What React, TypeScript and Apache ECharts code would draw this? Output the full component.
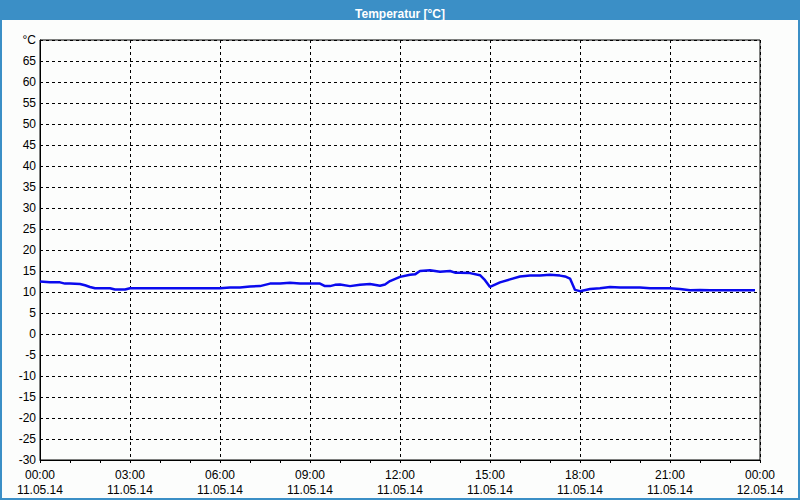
import React, { useEffect, useRef } from "react";
import * as echarts from "echarts";

const chartTitle = "Temperatur [°C]";
const xTickTimes = ["00:00", "03:00", "06:00", "09:00", "12:00", "15:00", "18:00", "21:00", "00:00"];
const xTickDates = ["11.05.14", "11.05.14", "11.05.14", "11.05.14", "11.05.14", "11.05.14", "11.05.14", "11.05.14", "12.05.14"];
const yUnitLabel = "°C";

const times = [
  "00:00", "00:20", "00:40", "00:50", "01:00", "01:20", "01:30", "01:40", "01:50", "02:00",
  "02:20", "02:30", "02:50", "03:00", "04:00", "05:00", "06:00", "06:20", "06:40", "07:00",
  "07:20", "07:30", "07:40", "07:50", "08:00", "08:20", "08:40", "09:00", "09:20", "09:30",
  "09:40", "09:50", "10:00", "10:20", "10:40", "11:00", "11:20", "11:30", "11:40", "12:00",
  "12:20", "12:30", "12:40", "13:00", "13:20", "13:40", "13:50", "14:00", "14:20", "14:40",
  "14:50", "15:00", "15:20", "15:40", "16:00", "16:20", "16:40", "17:00", "17:20", "17:30",
  "17:40", "17:50", "18:00", "18:20", "18:40", "19:00", "19:20", "20:00", "20:20", "21:00",
  "21:20", "21:40", "22:00", "22:20", "23:00", "23:50"
];
const temps = [
  12.5, 12.3, 12.3, 12.0, 12.0, 11.9, 11.6, 11.2, 10.9, 10.9,
  10.9, 10.6, 10.6, 10.9, 10.9, 10.9, 10.9, 11.1, 11.1, 11.3,
  11.4, 11.7, 12.0, 12.0, 12.0, 12.2, 12.0, 12.0, 12.0, 11.4,
  11.4, 11.7, 11.8, 11.4, 11.7, 11.9, 11.5, 11.8, 12.6, 13.6,
  14.1, 14.2, 15.0, 15.2, 14.8, 15.0, 14.6, 14.6, 14.5, 14.0,
  12.8, 11.2, 12.3, 13.0, 13.7, 13.9, 13.9, 14.1, 13.9, 13.7,
  13.2, 10.5, 10.2, 10.7, 10.9, 11.2, 11.1, 11.1, 10.9, 10.9,
  10.7, 10.4, 10.5, 10.4, 10.4, 10.4
];

const toHours = (t: string) => {
  const [h, m] = t.split(":").map(Number);
  return h + m / 60;
};

const FONT = "Liberation Sans";
const BLUE_FRAME = "#3b8fc6";

export default function App() {
  const ref = useRef<HTMLDivElement>(null);
  useEffect(() => {
    if (!ref.current) return;
    const chart = echarts.init(ref.current, undefined, { renderer: "svg" });
    const dashed = { color: "#000", width: 1, type: [3, 3] as any };
    chart.setOption({
      animation: false,
      backgroundColor: "#fcfdfc",
      title: {
        text: chartTitle,
        left: "center",
        top: 3,
        textStyle: { color: "#fff", fontSize: 12, fontWeight: "bold", fontFamily: FONT },
      },
      graphic: [
        { type: "rect", z: 0, shape: { x: 0, y: 0, width: 800, height: 20 }, style: { fill: BLUE_FRAME } },
        {
          type: "rect",
          z: 0,
          shape: { x: 1, y: 1, width: 798, height: 498 },
          style: { fill: "none", stroke: BLUE_FRAME, lineWidth: 2 },
        },
      ],
      grid: {
        left: 40,
        right: 40,
        top: 40,
        bottom: 40,
        show: true,
        borderColor: "#000",
        borderWidth: 1,
        backgroundColor: "transparent",
      },
      xAxis: {
        type: "value",
        min: 0,
        max: 24,
        interval: 3,
        axisLine: { show: true, onZero: false, lineStyle: { color: "#000", width: 1 } },
        axisTick: { show: true, length: 3, lineStyle: { color: "#000" } },
        minorTick: { show: true, splitNumber: 3, length: 3, lineStyle: { color: "#000" } },
        splitLine: { show: true, lineStyle: dashed },
        axisLabel: {
          color: "#000",
          fontFamily: FONT,
          fontSize: 12,
          lineHeight: 15,
          margin: 7,
          formatter: (v: number) => {
            const i = Math.round(v / 3);
            return xTickTimes[i] + "\n" + xTickDates[i];
          },
        },
      },
      yAxis: {
        type: "value",
        min: -30,
        max: 70,
        interval: 5,
        axisLine: { show: true, onZero: false, lineStyle: { color: "#000", width: 1 } },
        axisTick: { show: false },
        splitLine: { show: true, lineStyle: dashed },
        axisLabel: {
          color: "#000",
          fontFamily: FONT,
          fontSize: 12,
          margin: 4,
          formatter: (v: number) => (v === 70 ? yUnitLabel : String(v)),
        },
      },
      series: [
        {
          type: "line",
          data: times.map((t, i) => [toHours(t), temps[i]]),
          showSymbol: false,
          smooth: false,
          lineStyle: { color: "#0a0aee", width: 2.5 },
          z: 5,
        },
      ],
    });
    return () => chart.dispose();
  }, []);
  return (
    <div
      ref={ref}
      style={{ position: "absolute", left: 0, top: 0, width: 800, height: 500 }}
    />
  );
}
